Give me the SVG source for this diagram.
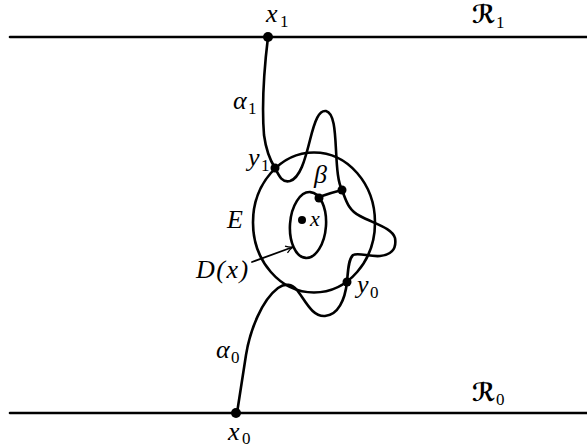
<svg xmlns="http://www.w3.org/2000/svg" width="587" height="447" viewBox="0 0 587 447">
<style>
.ln{fill:none;stroke:#000;stroke-width:2.6;stroke-linecap:round;stroke-linejoin:round}
.thin{fill:none;stroke:#000;stroke-width:1.8;stroke-linecap:round}
.dot{fill:#000}
text{fill:#000;font-family:"Liberation Serif","Times New Roman",Times,"DejaVu Serif",serif}
.m{font-style:italic;font-size:26px}
.s{font-size:17px}
.r{font-size:25px;font-weight:bold;font-family:"DejaVu Serif","DejaVu Sans",serif}
</style>
<defs>
<marker id="ah" viewBox="0 0 10 10" refX="9" refY="5" markerWidth="9" markerHeight="9" markerUnits="userSpaceOnUse" orient="auto">
<path d="M1,1 Q5,4 9,5 Q5,6 1,9" fill="none" stroke="#000" stroke-width="1.4"/>
</marker>
</defs>
<g id="R1">
<line class="ln" x1="10" y1="37" x2="587" y2="37"/>
<text class="r" x="472" y="23">ℛ</text><text class="s" x="496" y="28">1</text>
</g>
<g id="R0">
<line class="ln" x1="10" y1="413" x2="587" y2="413"/>
<text class="r" x="472" y="401">ℛ</text><text class="s" x="496" y="405">0</text>
</g>
<g id="E">
<ellipse class="ln" cx="314" cy="222.5" rx="61" ry="70"/>
<text class="m" x="227" y="228">E</text>
</g>
<g id="Dx">
<ellipse class="ln" cx="308" cy="225" rx="18" ry="33" transform="rotate(4 308 225)"/>
<circle class="dot" cx="302" cy="220" r="4"/>
<text class="m" x="310" y="226" style="font-size:22px">x</text>
<text class="m" x="196" y="278" letter-spacing="1.5">D(x)</text>
</g>
<g id="connectors">
<path class="ln" d="M268,37 C264,70 262,110 264,135 C266,150 270,160 275,168 C279,176 282,183 290,181 C300,178 305,160 310,140 C315,120 319,110 326,111 C334,113 335,130 336,150 C337,170 338,182 342,190 C346,200 348,210 360,216 C375,224 392,228 395,238 C397,250 390,255 380,256 C370,257 358,252 353,255 C348,260 348,272 347,282 C345,300 338,315 325,316 C312,317 305,300 297,290 C292,284 285,283 278,288 C262,300 250,330 246,355 C242,380 239,400 237,413"/>
<path class="ln" d="M319,197 Q330,193 342,190"/>
<line class="thin" x1="252" y1="262" x2="293" y2="247" marker-end="url(#ah)"/>
</g>
<g id="x1"><circle class="dot" cx="268" cy="37" r="5"/><text class="m" x="266" y="22">x</text><text class="s" x="280" y="27">1</text></g>
<g id="x0"><circle class="dot" cx="236" cy="413" r="5"/><text class="m" x="228" y="440">x</text><text class="s" x="242" y="444">0</text></g>
<g id="y1"><circle class="dot" cx="275" cy="168" r="4.5"/><text class="m" x="248" y="166">y</text><text class="s" x="261" y="171">1</text></g>
<g id="y0"><circle class="dot" cx="347" cy="282" r="4.5"/><text class="m" x="357" y="293">y</text><text class="s" x="370" y="298">0</text></g>
<g id="beta"><circle class="dot" cx="319" cy="198" r="4.5"/><circle class="dot" cx="342" cy="190" r="4.5"/><text class="m" x="314" y="183">β</text></g>
<g id="alpha1"><text class="m" x="233" y="109">α</text><text class="s" x="248" y="114">1</text></g>
<g id="alpha0"><text class="m" x="216" y="358">α</text><text class="s" x="231" y="363">0</text></g>
</svg>
